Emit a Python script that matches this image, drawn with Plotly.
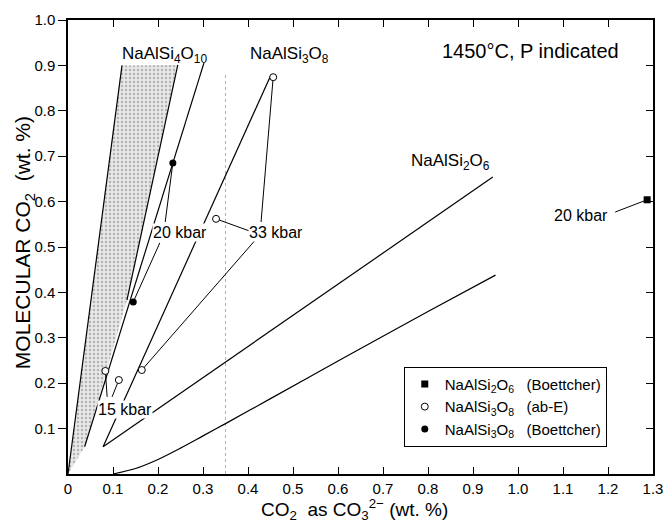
import plotly.graph_objects as go

# ---------------- data ----------------
# stippled NaAlSi4O10 band (outline)
band_x = [0.0, 0.120, 0.244, 0.131, 0.037, 0.0]
band_y = [0.0, 0.900, 0.901, 0.383, 0.060, 0.0]
band_left_x = [0.0, 0.120]
band_left_y = [0.0, 0.900]
band_right_x = [0.244, 0.131]
band_right_y = [0.901, 0.383]

# trend lines
boett_line_x = [0.037, 0.302]
boett_line_y = [0.060, 0.905]
ab_line_x = [0.078, 0.451]
ab_line_y = [0.060, 0.879]
jd_line_x = [0.078, 0.944]
jd_line_y = [0.060, 0.654]
curve_x = [0.10, 0.15, 0.20, 0.25, 0.30, 0.35, 0.45, 0.60, 0.80, 0.95]
curve_y = [0.000, 0.012, 0.032, 0.057, 0.084, 0.111, 0.166, 0.249, 0.358, 0.438]
vline_x = [0.35, 0.35]
vline_y = [0.0, 0.88]

# data points
jd_boett_x = [1.287]
jd_boett_y = [0.604]
ab_e_x = [0.456, 0.329, 0.164, 0.083, 0.113]
ab_e_y = [0.874, 0.562, 0.229, 0.227, 0.207]
ab_boett_x = [0.233, 0.145]
ab_boett_y = [0.685, 0.379]

# leader lines (label -> point)
lead_x = [0.233, 0.216, None, 0.145, 0.204, None,
          0.456, 0.429, None, 0.329, 0.404, None, 0.164, 0.416, None,
          0.083, 0.087, None, 0.113, 0.098, None,
          1.287, 1.216]
lead_y = [0.685, 0.555, None, 0.379, 0.509, None,
          0.874, 0.555, None, 0.562, 0.535, None, 0.229, 0.515, None,
          0.227, 0.170, None, 0.207, 0.170, None,
          0.604, 0.577]

# text labels
labels = [
    ("20 kbar", 0.249, 0.533, True),
    ("33 kbar", 0.462, 0.533, True),
    ("15 kbar", 0.127, 0.143, True),
    ("20 kbar", 1.140, 0.570, True),
    ("NaAlSi<sub>4</sub>O<sub>10</sub>", 0.215, 0.923, False),
    ("NaAlSi<sub>3</sub>O<sub>8</sub>", 0.493, 0.923, False),
    ("NaAlSi<sub>2</sub>O<sub>6</sub>", 0.849, 0.688, False),
    ("1450°C, P indicated", 1.027, 0.932, False),
]

x_ticks = [0, 0.1, 0.2, 0.3, 0.4, 0.5, 0.6, 0.7, 0.8, 0.9, 1.0, 1.1, 1.2, 1.3]
x_ticktext = ["0", "0.1", "0.2", "0.3", "0.4", "0.5", "0.6", "0.7", "0.8", "0.9",
              "1.0", "1.1", "1.2", "1.3"]
y_ticks = [0.1, 0.2, 0.3, 0.4, 0.5, 0.6, 0.7, 0.8, 0.9, 1.0]
y_ticktext = ["0.1", "0.2", "0.3", "0.4", "0.5", "0.6", "0.7", "0.8", "0.9", "1.0"]

FONT = "Liberation Sans"
LW = 1.2

fig = go.Figure()

fig.add_trace(go.Scatter(
    x=band_x, y=band_y, mode="lines", fill="toself",
    fillcolor="rgba(200,200,200,0.55)",
    fillpattern=dict(shape=".", fgcolor="#808080", bgcolor="#e8e8e8", size=4, solidity=0.3),
    line=dict(width=0), showlegend=False, hoverinfo="skip"))

fig.add_trace(go.Scatter(x=vline_x, y=vline_y, mode="lines",
                         line=dict(color="#b0b0b0", width=1, dash="dot"),
                         showlegend=False, hoverinfo="skip"))

for xs, ys in [(band_left_x, band_left_y), (band_right_x, band_right_y),
               (boett_line_x, boett_line_y), (ab_line_x, ab_line_y),
               (jd_line_x, jd_line_y)]:
    fig.add_trace(go.Scatter(x=xs, y=ys, mode="lines",
                             line=dict(color="black", width=LW),
                             showlegend=False, hoverinfo="skip"))

fig.add_trace(go.Scatter(x=curve_x, y=curve_y, mode="lines",
                         line=dict(color="black", width=LW, shape="spline", smoothing=0.8),
                         showlegend=False, hoverinfo="skip"))

fig.add_trace(go.Scatter(x=lead_x, y=lead_y, mode="lines",
                         line=dict(color="black", width=1),
                         showlegend=False, hoverinfo="skip"))

NB = "\u00a0"
fig.add_trace(go.Scatter(
    x=jd_boett_x, y=jd_boett_y, mode="markers",
    marker=dict(symbol="square", size=7, color="black"),
    name="NaAlSi<sub>2</sub>O<sub>6</sub>" + NB * 3 + "(Boettcher)"))
fig.add_trace(go.Scatter(
    x=ab_e_x, y=ab_e_y, mode="markers",
    marker=dict(symbol="circle", size=7, color="white", line=dict(color="black", width=1)),
    name="NaAlSi<sub>3</sub>O<sub>8</sub>" + NB * 3 + "(ab-E)"))
fig.add_trace(go.Scatter(
    x=ab_boett_x, y=ab_boett_y, mode="markers",
    marker=dict(symbol="circle", size=7, color="black"),
    name="NaAlSi<sub>3</sub>O<sub>8</sub>" + NB * 3 + "(Boettcher)"))

# invisible trace to carry the right-hand tick axis
fig.add_trace(go.Scatter(x=[None], y=[None], yaxis="y2", showlegend=False, hoverinfo="skip"))

annotations = []
for txt, ax, ay, bg in labels:
    if txt.startswith("1450"):
        size = 20
    elif "kbar" in txt:
        size = 16
    else:
        size = 17
    annotations.append(dict(
        x=ax, y=ay, xref="x", yref="y", text=txt, showarrow=False,
        xanchor="center", yanchor="middle",
        font=dict(family=FONT, size=size, color="black"),
        bgcolor="white" if bg else None, borderpad=0))

annotations.append(dict(
    x=0.49, y=-0.079, xref="paper", yref="paper",
    xanchor="center", yanchor="middle",
    text="CO<sub>2</sub>" + NB * 2 + "as CO<sub>3</sub><sup>2\u2212</sup> (wt. %)",
    showarrow=False, font=dict(family=FONT, size=19, color="black")))
annotations.append(dict(
    x=-0.074, y=0.51, xref="paper", yref="paper", textangle=-90,
    xanchor="center", yanchor="middle",
    text="MOLECULAR" + NB + "CO<sub>2</sub>" + NB * 2 + "(wt. %)",
    showarrow=False, font=dict(family=FONT, size=21, color="black")))

fig.update_layout(
    width=663, height=527,
    margin=dict(l=68, r=10, t=20, b=53, autoexpand=False),
    plot_bgcolor="white", paper_bgcolor="white",
    font=dict(family=FONT, color="black"),
    xaxis=dict(range=[0, 1.3], tickvals=x_ticks, ticktext=x_ticktext,
               ticks="inside", ticklen=7, tickwidth=1.2, tickcolor="black",
               showline=True, linewidth=1.5, linecolor="black", mirror="ticks",
               showgrid=False, zeroline=False, tickfont=dict(size=15),
               automargin=False, ticklabeloverflow="allow"),
    yaxis=dict(range=[0, 1.0], tickvals=y_ticks, ticktext=y_ticktext,
               ticks="outside", ticklen=8, tickwidth=1.2, tickcolor="black",
               showline=True, linewidth=1.5, linecolor="black", mirror=True,
               showgrid=False, zeroline=False, tickfont=dict(size=15),
               automargin=False, ticklabeloverflow="allow"),
    yaxis2=dict(range=[0, 1.0], overlaying="y", side="right",
                tickvals=y_ticks[:-1], ticks="inside", ticklen=7, tickwidth=1.2,
                tickcolor="black", showticklabels=False, showgrid=False,
                zeroline=False, showline=False, automargin=False),
    legend=dict(x=0.921, y=0.236, xanchor="right", yanchor="top",
                bordercolor="black", borderwidth=1, bgcolor="white",
                font=dict(family=FONT, size=15), itemwidth=30,
                tracegroupgap=0),
    annotations=annotations,
    showlegend=True,
)

fig.write_html("out.html")
